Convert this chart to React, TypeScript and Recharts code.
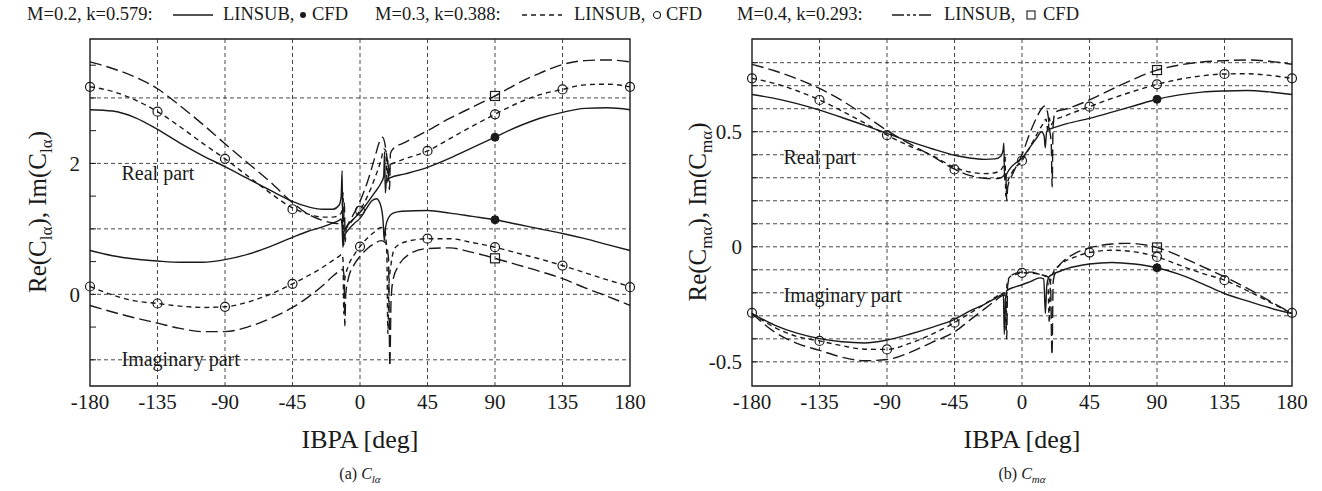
import React from "react";
import { LineChart, Line, XAxis, YAxis, ReferenceLine, ReferenceArea, ReferenceDot } from "recharts";

type Pt = [number, number];

const ibpaTicks = [-180, -135, -90, -45, 0, 45, 90, 135, 180];
const cfdIbpa = [-180, -135, -90, -45, 0, 45, 90, 135, 180];

// (a) C_l alpha — LINSUB curves, [IBPA, value]
const clRe02: Pt[] = [[-180,2.82],[-165,2.8],[-150,2.7],[-135,2.52],[-120,2.31],[-105,2.12],[-90,1.95],[-75,1.77],[-60,1.59],[-45,1.42],[-35,1.34],[-25,1.3],[-18,1.3],[-14,1.36],[-12.6,1.48],[-11.9,1.89],[-11.4,0.78],[-10.6,0.96],[-8,1.06],[-4,1.16],[0,1.25],[5,1.4],[10,1.56],[14,1.7],[15.8,1.8],[16.4,2.18],[16.9,1.55],[17.6,1.74],[20,1.78],[30,1.84],[45,1.94],[60,2.08],[75,2.24],[90,2.4],[105,2.56],[120,2.69],[135,2.78],[150,2.84],[165,2.85],[180,2.82]];
const clIm02: Pt[] = [[-180,0.67],[-165,0.59],[-150,0.54],[-135,0.51],[-120,0.49],[-105,0.49],[-90,0.53],[-75,0.61],[-60,0.73],[-45,0.87],[-35,0.96],[-25,1.03],[-18,1.09],[-14,1.13],[-12.6,1.15],[-11.9,1.02],[-11.4,0.72],[-10.6,0.88],[-8,0.98],[-4,1.08],[0,1.16],[4,1.3],[8,1.43],[11,1.46],[13.5,1.38],[15.3,1.15],[16.2,0.82],[17,1.02],[19,1.17],[22,1.24],[28,1.27],[45,1.28],[60,1.24],[75,1.19],[90,1.14],[105,1.07],[120,1.0],[135,0.93],[150,0.85],[165,0.76],[180,0.67]];
const clRe03: Pt[] = [[-180,3.17],[-165,3.1],[-150,2.97],[-135,2.79],[-120,2.56],[-105,2.31],[-90,2.07],[-75,1.81],[-60,1.55],[-45,1.32],[-35,1.23],[-25,1.18],[-18,1.18],[-14,1.21],[-12,1.27],[-11.3,1.55],[-10.9,0.75],[-10.2,0.95],[-6,1.1],[0,1.28],[5,1.5],[10,1.78],[14,2.05],[16,2.22],[17.4,2.18],[18,1.7],[18.6,2.05],[19.3,1.85],[20.2,1.98],[23,2.01],[30,2.07],[45,2.19],[60,2.38],[75,2.57],[90,2.75],[105,2.92],[120,3.05],[135,3.13],[150,3.2],[165,3.21],[180,3.17]];
const clIm03: Pt[] = [[-180,0.12],[-165,-0.01],[-150,-0.1],[-135,-0.14],[-120,-0.18],[-105,-0.2],[-90,-0.19],[-75,-0.12],[-60,0.0],[-45,0.16],[-35,0.28],[-25,0.41],[-18,0.52],[-14,0.58],[-12,0.61],[-11.3,0.52],[-10.8,-0.3],[-10.2,0.22],[-8,0.42],[-4,0.6],[0,0.73],[5,0.86],[10,0.96],[14,1.02],[16.5,0.98],[17.9,0.62],[18.6,-0.6],[19.3,0.15],[20.5,0.42],[23,0.7],[30,0.8],[45,0.85],[60,0.85],[75,0.79],[90,0.72],[105,0.63],[120,0.54],[135,0.44],[150,0.33],[165,0.22],[180,0.12]];
const clRe04: Pt[] = [[-180,3.55],[-165,3.45],[-150,3.32],[-135,3.14],[-120,2.88],[-105,2.6],[-90,2.3],[-75,2.01],[-60,1.72],[-45,1.4],[-35,1.23],[-25,1.13],[-18,1.09],[-14,1.08],[-11,1.12],[-10.4,1.4],[-9.9,0.8],[-9.2,1.0],[-6,1.15],[0,1.42],[5,1.72],[10,2.1],[13,2.33],[15,2.4],[17,2.25],[18.8,1.9],[19.7,1.6],[20.3,2.15],[22,2.22],[30,2.32],[45,2.5],[60,2.69],[75,2.86],[90,3.03],[105,3.22],[120,3.38],[135,3.51],[150,3.57],[165,3.58],[180,3.55]];
const clIm04: Pt[] = [[-180,-0.17],[-165,-0.27],[-150,-0.36],[-135,-0.44],[-120,-0.52],[-105,-0.57],[-90,-0.57],[-75,-0.5],[-60,-0.37],[-45,-0.2],[-35,-0.05],[-25,0.13],[-18,0.28],[-14,0.35],[-11.5,0.38],[-10.7,0.3],[-10.1,-0.48],[-9.5,0.0],[-8,0.22],[-4,0.45],[0,0.58],[5,0.7],[10,0.78],[14,0.82],[17,0.79],[19,0.55],[19.9,-1.1],[20.7,-0.1],[22,0.22],[26,0.45],[32,0.6],[45,0.7],[60,0.71],[75,0.64],[90,0.55],[105,0.45],[120,0.35],[135,0.24],[150,0.1],[165,-0.03],[180,-0.17]];

// (a) CFD
const clCfdRe03 = [3.17, 2.79, 2.07, 1.3, 1.28, 2.19, 2.75, 3.13, 3.17];
const clCfdIm03 = [0.12, -0.14, -0.19, 0.16, 0.73, 0.85, 0.72, 0.44, 0.11];
const clCfd02 = [2.4, 1.14]; // at IBPA 90
const clCfd04 = [3.03, 0.55]; // at IBPA 90

// (b) C_m alpha — LINSUB curves
const cmRe02: Pt[] = [[-180,0.662],[-165,0.645],[-150,0.622],[-135,0.594],[-120,0.562],[-105,0.528],[-90,0.493],[-75,0.458],[-60,0.426],[-45,0.398],[-35,0.386],[-25,0.38],[-18,0.382],[-14,0.395],[-12.6,0.42],[-12.1,0.45],[-11.6,0.29],[-10.6,0.31],[-8,0.34],[-4,0.365],[0,0.385],[5,0.43],[10,0.475],[13,0.5],[14.8,0.48],[15.5,0.43],[16.4,0.5],[18,0.51],[20,0.515],[30,0.535],[45,0.558],[60,0.585],[75,0.613],[90,0.641],[105,0.66],[120,0.672],[135,0.677],[150,0.679],[165,0.673],[180,0.662]];
const cmIm02: Pt[] = [[-180,-0.29],[-165,-0.34],[-150,-0.375],[-135,-0.399],[-120,-0.413],[-105,-0.418],[-90,-0.405],[-75,-0.38],[-60,-0.35],[-45,-0.315],[-35,-0.28],[-25,-0.25],[-18,-0.225],[-14,-0.21],[-12.4,-0.205],[-11.8,-0.38],[-11,-0.23],[-10,-0.19],[-5,-0.175],[0,-0.165],[6,-0.15],[12,-0.135],[14.5,-0.14],[15.6,-0.29],[16.5,-0.17],[18,-0.13],[22,-0.115],[30,-0.095],[45,-0.075],[60,-0.068],[75,-0.075],[90,-0.091],[105,-0.12],[120,-0.16],[135,-0.203],[150,-0.235],[165,-0.265],[180,-0.29]];
const cmRe03: Pt[] = [[-180,0.732],[-165,0.71],[-150,0.678],[-135,0.638],[-120,0.59],[-105,0.538],[-90,0.485],[-75,0.438],[-60,0.397],[-45,0.345],[-35,0.325],[-25,0.318],[-18,0.322],[-14,0.335],[-12,0.36],[-11.3,0.4],[-10.8,0.22],[-10,0.27],[-6,0.33],[0,0.374],[5,0.43],[10,0.49],[14,0.535],[16,0.555],[17.3,0.5],[18.2,0.56],[19.2,0.53],[21,0.545],[30,0.572],[45,0.609],[60,0.645],[75,0.677],[90,0.706],[105,0.728],[120,0.743],[135,0.751],[150,0.752],[165,0.745],[180,0.732]];
const cmIm03: Pt[] = [[-180,-0.29],[-165,-0.35],[-150,-0.39],[-135,-0.409],[-120,-0.43],[-105,-0.445],[-90,-0.446],[-75,-0.42],[-60,-0.38],[-45,-0.33],[-35,-0.29],[-25,-0.25],[-18,-0.22],[-14,-0.205],[-12,-0.2],[-11.2,-0.22],[-10.6,-0.36],[-10,-0.16],[-8,-0.13],[-4,-0.12],[0,-0.113],[6,-0.115],[12,-0.12],[16,-0.13],[17.3,-0.16],[18.2,-0.33],[19,-0.15],[21,-0.11],[25,-0.08],[35,-0.045],[45,-0.025],[60,-0.015],[75,-0.022],[90,-0.044],[105,-0.08],[120,-0.115],[135,-0.145],[150,-0.19],[165,-0.24],[180,-0.29]];
const cmRe04: Pt[] = [[-180,0.793],[-165,0.765],[-150,0.73],[-135,0.688],[-120,0.635],[-105,0.572],[-90,0.505],[-75,0.448],[-60,0.395],[-45,0.337],[-35,0.31],[-25,0.298],[-18,0.296],[-14,0.3],[-12,0.31],[-10.8,0.33],[-10.2,0.2],[-9.5,0.26],[-6,0.32],[0,0.4],[5,0.49],[10,0.565],[13,0.6],[15,0.612],[17,0.585],[18.6,0.5],[19.5,0.45],[20.1,0.26],[20.7,0.52],[22,0.585],[30,0.6],[45,0.638],[60,0.685],[75,0.73],[90,0.768],[105,0.79],[120,0.803],[135,0.809],[150,0.812],[165,0.806],[180,0.793]];
const cmIm04: Pt[] = [[-180,-0.29],[-165,-0.37],[-150,-0.42],[-135,-0.45],[-120,-0.48],[-105,-0.495],[-90,-0.49],[-75,-0.46],[-60,-0.415],[-45,-0.37],[-35,-0.32],[-25,-0.27],[-18,-0.235],[-14,-0.215],[-11.5,-0.21],[-10.8,-0.26],[-10.2,-0.4],[-9.6,-0.17],[-8,-0.13],[-4,-0.115],[0,-0.11],[6,-0.11],[12,-0.12],[17,-0.13],[19,-0.16],[20,-0.47],[20.8,-0.15],[23,-0.1],[28,-0.06],[35,-0.03],[45,-0.005],[60,0.012],[70,0.015],[90,-0.003],[105,-0.04],[120,-0.085],[135,-0.13],[150,-0.18],[165,-0.235],[180,-0.29]];

// (b) CFD
const cmCfdRe03 = [0.732, 0.638, 0.485, 0.336, 0.374, 0.609, 0.706, 0.751, 0.732];
const cmCfdIm03 = [-0.287, -0.409, -0.446, -0.33, -0.113, -0.025, -0.044, -0.145, -0.287];
const cmCfd02 = [0.641, -0.091];
const cmCfd04 = [0.768, -0.003];

const clTicks = [-1, -0.5, 0, 0.5, 1, 1.5, 2, 2.5, 3, 3.5];
const clTickLabels = [0, 2];
const clGrid = [-1, 0, 1, 2, 3];
const cmTicks = [-0.5, -0.4, -0.3, -0.2, -0.1, 0, 0.1, 0.2, 0.3, 0.4, 0.5, 0.6, 0.7, 0.8];
const cmTickLabels = [-0.5, 0, 0.5];
const cmGrid = cmTicks;

const INK = "#1a1a1a";
const SERIF = '"Liberation Serif", "Times New Roman", Tinos, serif';
const DASH02 = undefined;
const DASH03 = "5 4";
const DASH04 = "12 5";

const rows = (pts: Pt[]) => pts.map(([x, y]) => ({ x, y }));
const cfdRows = (vals: number[]) => cfdIbpa.map((x, i) => ({ x, y: vals[i] }));

const Square = (props: any) => {
  const { cx, cy, index } = props;
  if (cx == null || cy == null) return <g key={`s${index}`} />;
  return <rect key={`s${index}`} x={cx - 4.5} y={cy - 4.5} width={9} height={9} fill="none" stroke={INK} strokeWidth={1.2} />;
};

type PanelProps = {
  re: Pt[][];
  im: Pt[][];
  cfdRe: number[];
  cfdIm: number[];
  cfd02: number[];
  cfd04: number[];
  domain: [number, number];
  ticks: number[];
  tickLabels: number[];
  grid: number[];
  realAt: Pt;
  imagAt: Pt;
};

function Panel(p: PanelProps) {
  const dashes = [DASH02, DASH03, DASH04];
  const fmt = (v: number) => (p.tickLabels.some((t) => Math.abs(t - v) < 1e-6) ? String(v) : "");
  const textStyle = { fontSize: 20, fill: INK, fontFamily: SERIF };
  return (
    <LineChart width={660} height={491} margin={{ top: 39, right: 30, bottom: 65, left: 30 }}>
      <XAxis dataKey="x" type="number" domain={[-180, 180]} ticks={ibpaTicks} axisLine={false} tickLine={false}
        tick={{ fontSize: 21, fill: INK, fontFamily: SERIF }} height={40} tickMargin={2} />
      <YAxis type="number" domain={p.domain} ticks={p.ticks} allowDataOverflow width={60} axisLine={false}
        tickSize={-6} tickMargin={16} tickLine={{ stroke: INK }} tickFormatter={fmt} interval={0}
        tick={{ fontSize: 21, fill: INK, fontFamily: SERIF }} />
      <YAxis yAxisId="r" orientation="right" type="number" domain={p.domain} ticks={p.ticks} allowDataOverflow
        width={0} axisLine={false} tickSize={-6} tickLine={{ stroke: INK }} tick={false} interval={0} />
      {p.grid.map((v) => (
        <ReferenceLine key={`gy${v}`} y={v} stroke="#333" strokeWidth={0.9} strokeDasharray="4 3" />
      ))}
      {ibpaTicks.slice(1, -1).map((v) => (
        <ReferenceLine key={`gx${v}`} x={v} stroke="#333" strokeWidth={0.9} strokeDasharray="4 3" />
      ))}
      <ReferenceDot x={p.realAt[0]} y={p.realAt[1]} r={0} fill="none" stroke="none"
        label={{ value: "Real part", position: "right", offset: 0, ...textStyle }} />
      <ReferenceDot x={p.imagAt[0]} y={p.imagAt[1]} r={0} fill="none" stroke="none"
        label={{ value: "Imaginary part", position: "right", offset: 0, ...textStyle }} />
      {[...p.re, ...p.im].map((pts, i) => (
        <Line key={`c${i}`} data={rows(pts)} dataKey="y" type="monotone" stroke={INK} strokeWidth={1.4}
          strokeDasharray={dashes[i % 3]} dot={false} isAnimationActive={false} />
      ))}
      <Line data={cfdRows(p.cfdRe)} dataKey="y" stroke="none" isAnimationActive={false}
        dot={{ r: 4.5, fill: "none", stroke: INK, strokeWidth: 1.2 }} />
      <Line data={cfdRows(p.cfdIm)} dataKey="y" stroke="none" isAnimationActive={false}
        dot={{ r: 4.5, fill: "none", stroke: INK, strokeWidth: 1.2 }} />
      <Line data={p.cfd02.map((y) => ({ x: 90, y }))} dataKey="y" stroke="none" isAnimationActive={false}
        dot={{ r: 4, fill: INK, stroke: INK, strokeWidth: 1 }} />
      <Line data={p.cfd04.map((y) => ({ x: 90, y }))} dataKey="y" stroke="none" isAnimationActive={false}
        dot={Square} />
      <ReferenceArea x1={-180} x2={180} y1={p.domain[0]} y2={p.domain[1]} fill="none" stroke={INK}
        strokeWidth={1.4} ifOverflow="visible" />
    </LineChart>
  );
}

const legendGroups = [
  { head: "M=0.2, k=0.579:", dash: DASH02, marker: "dot" },
  { head: "M=0.3, k=0.388:", dash: DASH03, marker: "circle" },
  { head: "M=0.4, k=0.293:", dash: "12 3 3 3 3 3", marker: "square" },
];
// layout: group left, then offsets of sample, "LINSUB,", marker, "CFD"
const legendLeft = [27, 375, 737];
const legendOffsets = [
  [146, 196, 270, 285],
  [147, 199, 276, 291],
  [155, 207, 288, 306],
];

function Legend() {
  const piece = (left: number) => ({ position: "absolute" as const, left, top: 0 });
  return (
    <>
      {legendGroups.map((g, i) => {
        const [s, l, m, c] = legendOffsets[i];
        return (
          <div key={g.head} style={{ position: "absolute", left: legendLeft[i], top: 3, height: 22,
            fontFamily: SERIF, fontSize: 18.5, color: INK, whiteSpace: "nowrap", lineHeight: "22px" }}>
            <span style={piece(0)}>{g.head}</span>
            <svg width={40} height={10} style={{ ...piece(s), top: 7 }}>
              <line x1={0} x2={40} y1={5} y2={5} stroke={INK} strokeWidth={1.4} strokeDasharray={g.dash} />
            </svg>
            <span style={piece(l)}>LINSUB,</span>
            <svg width={12} height={12} style={{ ...piece(m), top: 6 }}>
              {g.marker === "dot" && <circle cx={6} cy={6} r={3} fill={INK} />}
              {g.marker === "circle" && <circle cx={6} cy={6} r={3.5} fill="none" stroke={INK} strokeWidth={1.1} />}
              {g.marker === "square" && <rect x={2} y={2} width={8} height={8} fill="none" stroke={INK} strokeWidth={1.1} />}
            </svg>
            <span style={piece(c)}>CFD</span>
          </div>
        );
      })}
    </>
  );
}

function YTitle({ sub, left }: { sub: string; left: number }) {
  return (
    <div style={{ position: "absolute", left, top: 212, transform: "translate(-50%, -50%) rotate(-90deg)",
      fontFamily: SERIF, fontSize: 25, color: INK, whiteSpace: "nowrap" }}>
      Re(C<sub style={{ fontSize: 17 }}>{sub}</sub>), Im(C<sub style={{ fontSize: 17 }}>{sub}</sub>)
    </div>
  );
}

function Caption({ tag, sub, center }: { tag: string; sub: string; center: number }) {
  return (
    <>
      <div style={{ position: "absolute", left: center, top: 440, transform: "translate(-50%, -50%)",
        fontFamily: SERIF, fontSize: 26, color: INK, whiteSpace: "nowrap" }}>IBPA [deg]</div>
      <div style={{ position: "absolute", left: center, top: 475, transform: "translate(-50%, -50%)",
        fontFamily: SERIF, fontSize: 16, color: INK, whiteSpace: "nowrap" }}>
        ({tag}) <i>C<sub style={{ fontSize: 11 }}>{sub}</sub></i>
      </div>
    </>
  );
}

export default function App() {
  return (
    <div style={{ position: "absolute", left: 0, top: 0, width: 1322, height: 491, background: "#fff", overflow: "hidden" }}>
      <Legend />
      <div style={{ position: "absolute", left: 0, top: 0 }}>
        <Panel re={[clRe02, clRe03, clRe04]} im={[clIm02, clIm03, clIm04]} cfdRe={clCfdRe03} cfdIm={clCfdIm03}
          cfd02={clCfd02} cfd04={clCfd04} domain={[-1.4, 3.9]} ticks={clTicks} tickLabels={clTickLabels}
          grid={clGrid} realAt={[-159, 1.86]} imagAt={[-159, -0.98]} />
      </div>
      <div style={{ position: "absolute", left: 662, top: 0 }}>
        <Panel re={[cmRe02, cmRe03, cmRe04]} im={[cmIm02, cmIm03, cmIm04]} cfdRe={cmCfdRe03} cfdIm={cmCfdIm03}
          cfd02={cmCfd02} cfd04={cmCfd04} domain={[-0.605, 0.903]} ticks={cmTicks} tickLabels={cmTickLabels}
          grid={cmGrid} realAt={[-159, 0.39]} imagAt={[-159, -0.21]} />
      </div>
      <YTitle sub="lα" left={40} />
      <YTitle sub="mα" left={700} />
      <Caption tag="a" sub="lα" center={360} />
      <Caption tag="b" sub="mα" center={1022} />
    </div>
  );
}
